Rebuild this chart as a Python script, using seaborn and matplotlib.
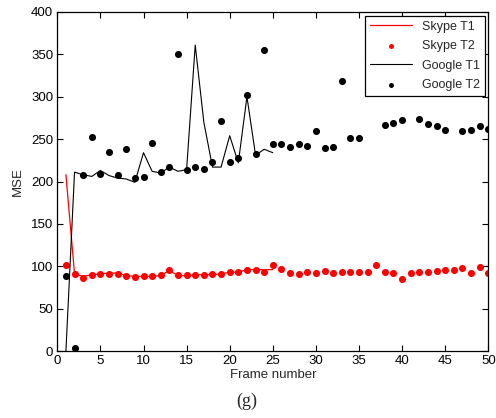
import numpy as np
import pandas as pd
import matplotlib
matplotlib.use("Agg")
import matplotlib.pyplot as plt
import seaborn as sns

# Frame indices
frames_t1 = list(range(1, 26))
frames_t2 = list(range(1, 51))

# MSE per frame
skype_t1 = [208, 91, 88, 90, 91, 92, 92, 89, 88, 88, 88, 89, 95, 89, 89,
            90, 90, 90, 91, 93, 93, 96, 96, 96, 96]
skype_t2 = [101, 91, 86, 90, 91, 91, 91, 89, 87, 88, 88, 90, 96, 90, 90,
            90, 90, 91, 91, 93, 93, 95, 96, 93, 101, 97, 92, 91, 93, 92,
            94, 92, 93, 93, 93, 93, 101, 93, 92, 85, 92, 93, 93, 94, 96,
            96, 98, 92, 99, 92]
google_t1 = [0, 211, 208, 206, 213, 207, 204, 203, 199, 234, 212, 210, 217,
             212, 214, 361, 270, 217, 217, 254, 222, 300, 231, 238, 234]
google_t2 = [89, 3, 208, 253, 209, 235, 208, 238, 204, 205, 246, 211, 217,
             351, 214, 217, 215, 223, 271, 223, 228, 302, 232, 355, 244,
             244, 241, 244, 242, 259, 240, 241, 319, 251, 251, 348, np.nan,
             267, 269, 272, np.nan, 274, 268, 265, 261, np.nan, 260, 261,
             265, 262]

x_ticks = list(range(0, 51, 5))
y_ticks = list(range(0, 401, 50))

sns.set_theme(style="white")
plt.rcParams["font.family"] = ["Liberation Sans", "DejaVu Sans"]

fig = plt.figure(figsize=(4.96, 4.18), dpi=100)
ax = fig.add_axes([57.3 / 496, 1 - 351 / 418, 431 / 496, 339 / 418])

sns.lineplot(x=frames_t1, y=skype_t1, color="red", linewidth=0.9,
             label="Skype T1", ax=ax)
sns.scatterplot(x=frames_t2, y=skype_t2, color="red", s=26, linewidth=0,
                label="Skype T2", ax=ax)
sns.lineplot(x=frames_t1, y=google_t1, color="black", linewidth=0.8,
             label="Google T1", ax=ax)
sns.scatterplot(x=frames_t2, y=google_t2, color="black", s=26, linewidth=0,
                label="Google T2", ax=ax)

ax.set_xlim(0, 50)
ax.set_ylim(0, 400)
ax.set_xticks(x_ticks)
ax.set_yticks(y_ticks)
ax.tick_params(direction="in", length=4, width=0.8, labelsize=9.5,
               top=True, right=True, bottom=True, left=True,
               colors="black", pad=3)
for side in ax.spines.values():
    side.set_visible(True)
    side.set_color("black")
    side.set_linewidth(0.9)

ax.set_xlabel("Frame number", fontsize=9.5, labelpad=1)
ax.set_ylabel("MSE", fontsize=9.5, labelpad=5)

leg = ax.legend(loc="upper right", fontsize=9, frameon=True, fancybox=False,
                framealpha=1, edgecolor="black", handlelength=3.3,
                borderaxespad=0.3, labelspacing=0.6, markerscale=0.7)
leg.get_frame().set_linewidth(0.9)
leg.set_zorder(10)

fig.text(247 / 496, 1 - 401 / 418, "(g)", ha="center", va="center",
         fontsize=13, family=["Liberation Serif", "DejaVu Serif"])

fig.savefig("out.png", dpi=100, facecolor="white")
